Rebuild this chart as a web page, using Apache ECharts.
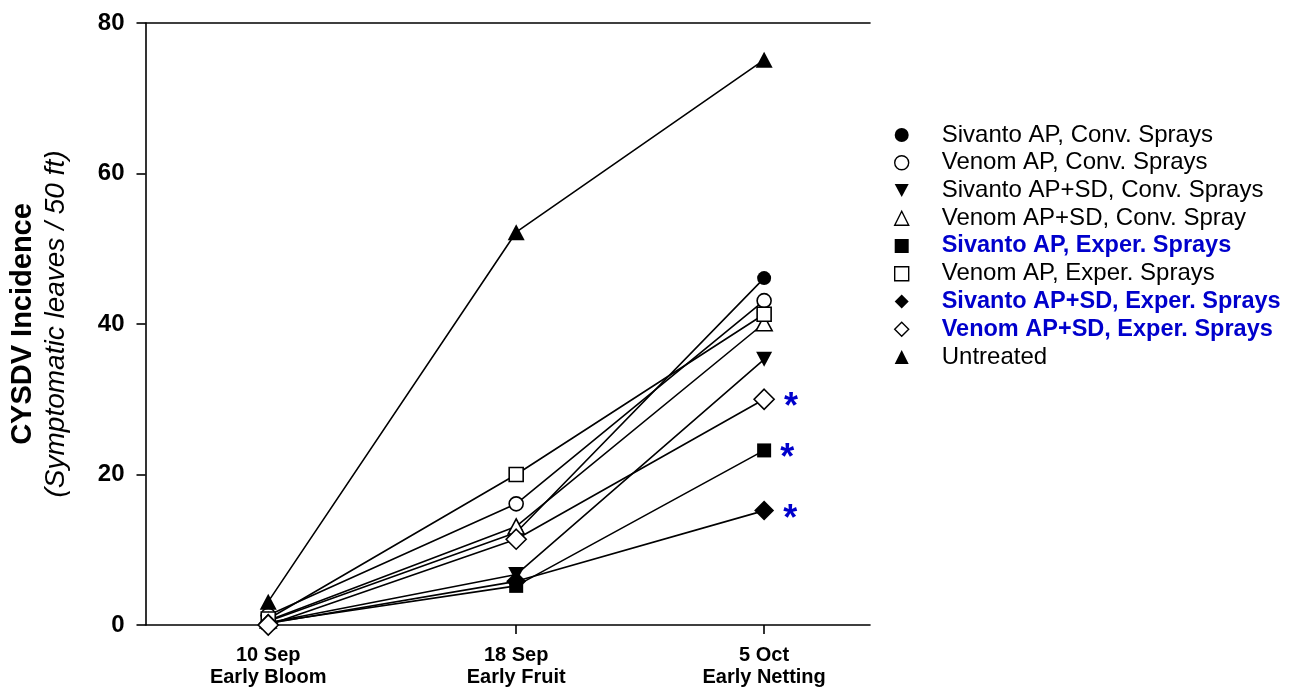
<!DOCTYPE html>
<html>
<head>
<meta charset="utf-8">
<script src="https://cdn.jsdelivr.net/npm/echarts@6/dist/echarts.min.js"></script>
<style>
html,body{margin:0;padding:0;background:#fff;}
#chart{width:1290px;height:688px;}
</style>
</head>
<body>
<div id="chart"></div>
<script>
// ---- data ----
var dates = ['10 Sep', '18 Sep', '5 Oct'];
var stages = ['Early Bloom', 'Early Fruit', 'Early Netting'];
var yTicks = [0, 20, 40, 60, 80];

var seriesNames = [
  'Sivanto AP, Conv. Sprays',
  'Venom AP, Conv. Sprays',
  'Sivanto AP+SD, Conv. Sprays',
  'Venom AP+SD, Conv. Spray',
  'Sivanto AP, Exper. Sprays',
  'Venom AP, Exper. Sprays',
  'Sivanto AP+SD, Exper. Sprays',
  'Venom AP+SD, Exper. Sprays',
  'Untreated'
];
var sivantoApConv    = [0.5, 12.3, 46.1];
var venomApConv      = [1.3, 16.1, 43.1];
var sivantoApSdConv  = [0.3, 6.7, 35.3];
var venomApSdConv    = [0.6, 13.1, 40.1];
var sivantoApExper   = [0.3, 5.2, 23.2];
var venomApExper     = [0.8, 20.0, 41.3];
var sivantoApSdExper = [0.2, 5.8, 15.2];
var venomApSdExper   = [0.0, 11.4, 30.0];
var untreated        = [3.1, 52.2, 75.1];
// series marked significant (blue, asterisk at last date)
var significant = ['Sivanto AP, Exper. Sprays', 'Sivanto AP+SD, Exper. Sprays', 'Venom AP+SD, Exper. Sprays'];

var seriesValues = [sivantoApConv, venomApConv, sivantoApSdConv, venomApSdConv,
  sivantoApExper, venomApExper, sivantoApSdExper, venomApSdExper, untreated];

// ---- styles ----
var FONT = '"Liberation Sans", Arial, Helvetica, sans-serif';
var BLUE = '#0000cc';
var downTri = 'path://M0,0L10,0L5,9.2Z';
var styles = [
  {symbol: 'circle', size: 14, filled: true},
  {symbol: 'circle', size: 14, filled: false},
  {symbol: downTri, size: [16, 15], filled: true},
  {symbol: 'triangle', size: [16, 15], filled: false},
  {symbol: 'rect', size: 14, filled: true},
  {symbol: 'rect', size: 14, filled: false},
  {symbol: 'diamond', size: 20, filled: true},
  {symbol: 'diamond', size: 20, filled: false},
  {symbol: 'triangle', size: [17, 16], filled: true}
];
var legendIcons = ['circle', 'circle', downTri, 'triangle', 'rect', 'rect', 'diamond', 'diamond', 'triangle'];

var series = seriesNames.map(function (name, si) {
  var st = styles[si];
  var isSig = significant.indexOf(name) >= 0;
  var data = seriesValues[si].map(function (v, i) {
    var item = {value: [i, v]};
    if (isSig && i === seriesValues[si].length - 1) {
      item.label = {
        show: true, position: 'right', distance: 9, formatter: '*',
        color: BLUE, fontSize: 36, fontWeight: 'bold', fontFamily: FONT,
        offset: [0, 9]
      };
    }
    return item;
  });
  return {
    name: name,
    type: 'line',
    data: data,
    symbol: st.symbol,
    symbolSize: st.size,
    showAllSymbol: true,
    animation: false,
    lineStyle: {color: '#000', width: 1.6},
    itemStyle: {
      color: st.filled ? '#000' : '#fff',
      borderColor: '#000',
      borderWidth: st.filled ? 0 : 1.6
    },
    emphasis: {disabled: true},
    z: 2
  };
});

var legendData = seriesNames.map(function (name, si) {
  var isSig = significant.indexOf(name) >= 0;
  var st = styles[si];
  return {
    name: name,
    icon: legendIcons[si],
    itemStyle: {
      color: st.filled ? '#000' : '#fff',
      borderColor: '#000',
      borderWidth: st.filled ? 0 : 1.4
    },
    textStyle: isSig ? {color: BLUE, fontWeight: 'bold', fontSize: 23.5} : {color: '#000', fontWeight: 'normal'}
  };
});

var chart = echarts.init(document.getElementById('chart'), null, {renderer: 'canvas'});
chart.setOption({
  backgroundColor: '#fff',
  animation: false,
  textStyle: {fontFamily: FONT},
  grid: {left: 144, right: 420, top: 23, bottom: 59, containLabel: false},
  legend: {
    orient: 'vertical',
    left: 889,
    top: 118,
    padding: 5,
    itemWidth: 14,
    itemHeight: 14,
    itemGap: 3.75,
    selectedMode: false,
    data: legendData,
    textStyle: {fontSize: 24, fontFamily: FONT, lineHeight: 24, color: '#000', padding: [0, 0, 0, 28]}
  },
  xAxis: [{
    type: 'value',
    min: -0.495,
    max: 2.427,
    position: 'bottom',
    splitLine: {show: false},
    axisLine: {show: true, onZero: false, lineStyle: {color: '#000', width: 1.6}},
    axisTick: {show: true, customValues: [0, 1, 2], length: 9, inside: false, lineStyle: {color: '#000', width: 1.6}},
    axisLabel: {
      show: true,
      customValues: [0, 1, 2],
      margin: 19,
      fontSize: 20,
      fontWeight: 'bold',
      lineHeight: 22,
      color: '#000',
      fontFamily: FONT,
      formatter: function (v) {
        var i = Math.round(v);
        return dates[i] + '\n' + stages[i];
      }
    }
  }, {
    type: 'value',
    min: -0.495,
    max: 2.427,
    position: 'top',
    splitLine: {show: false},
    axisLine: {show: true, onZero: false, lineStyle: {color: '#000', width: 1.6}},
    axisTick: {show: false},
    axisLabel: {show: false}
  }],
  yAxis: {
    type: 'value',
    min: yTicks[0],
    max: yTicks[yTicks.length - 1],
    interval: 20,
    splitLine: {show: false},
    axisLine: {show: true, onZero: false, lineStyle: {color: '#000', width: 1.6}},
    axisTick: {show: true, length: 9, inside: false, lineStyle: {color: '#000', width: 1.6}},
    axisLabel: {margin: 21, fontSize: 24, fontWeight: 'bold', color: '#000', fontFamily: FONT},
    name: '{b|CYSDV Incidence}\n{i|(Symptomatic leaves / 50 ft)}',
    nameLocation: 'middle',
    nameRotate: 90,
    nameGap: 72,
    nameTextStyle: {
      rich: {
        b: {fontSize: 29, fontWeight: 'bold', color: '#000', fontFamily: FONT, lineHeight: 34, align: 'center'},
        i: {fontSize: 28, fontStyle: 'italic', color: '#000', fontFamily: FONT, lineHeight: 34, align: 'center'}
      }
    }
  },
  series: series
});
</script>
</body>
</html>
